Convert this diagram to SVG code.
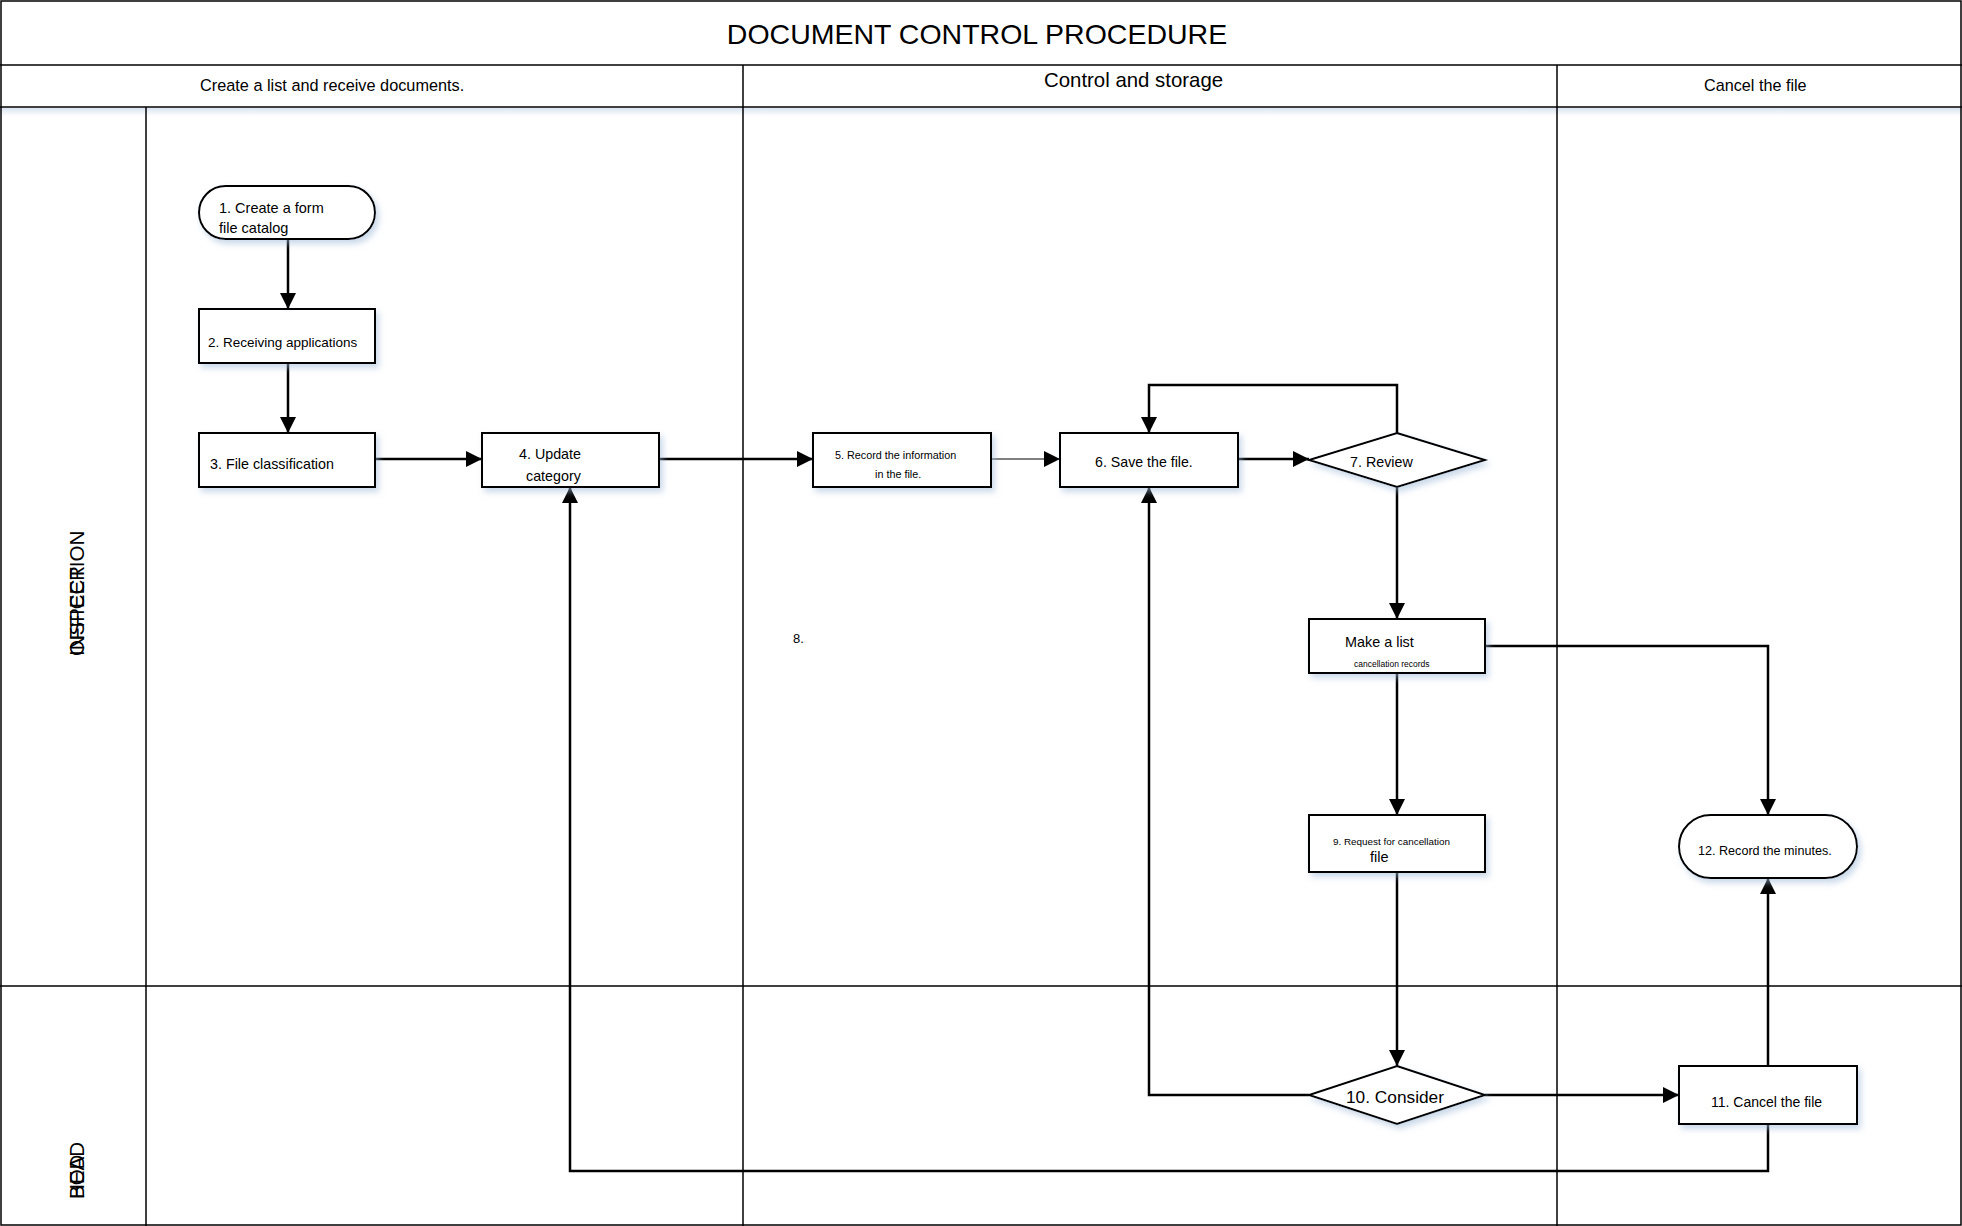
<svg xmlns="http://www.w3.org/2000/svg" width="1962" height="1226" viewBox="0 0 1962 1226">
<style>
text{font-family:"Liberation Sans",Arial,sans-serif;fill:#000}
.frame{fill:none;stroke:#000;stroke-width:1.5}
.lane{stroke:#000;stroke-width:1.5;fill:none}
.node{fill:#fff;stroke:#000;stroke-width:2;filter:url(#sh)}
.conn{fill:none;stroke:#000;stroke-width:2.5}
.thin{fill:none;stroke:#000;stroke-width:1}
</style>
<defs>
<filter id="sh" x="-10%" y="-20%" width="125%" height="150%">
<feDropShadow dx="3" dy="4" stdDeviation="3" flood-color="#9fb9d8" flood-opacity="0.55"/>
</filter>
<linearGradient id="hg" x1="0" y1="0" x2="0" y2="1">
<stop offset="0" stop-color="#c9d8ea"/>
<stop offset="1" stop-color="#ffffff"/>
</linearGradient>
<marker id="ah" markerUnits="userSpaceOnUse" markerWidth="16" markerHeight="16" refX="16" refY="8" orient="auto">
<path d="M0,0 L16,8 L0,16 z" fill="#000"/>
</marker>
</defs>
<rect x="0" y="0" width="1962" height="1226" fill="#fff"/>
<g id="frame">
<rect x="0" y="108" width="1962" height="8" fill="url(#hg)" opacity="0.7"/>
<rect x="1" y="1" width="1960" height="1224" class="frame"/>
<line x1="0" y1="65" x2="1962" y2="65" class="lane"/>
<line x1="0" y1="107" x2="1962" y2="107" class="lane"/>
<line x1="743" y1="65" x2="743" y2="1226" class="lane"/>
<line x1="1557" y1="65" x2="1557" y2="1226" class="lane"/>
<line x1="146" y1="107" x2="146" y2="1226" class="lane"/>
<line x1="0" y1="986" x2="1962" y2="986" class="lane"/>
<text x="977" y="44" font-size="28.5" text-anchor="middle">DOCUMENT CONTROL PROCEDURE</text>
<text x="200" y="91" font-size="16.3">Create a list and receive documents.</text>
<text x="1044" y="87" font-size="20.4">Control and storage</text>
<text x="1704" y="91" font-size="16.2">Cancel the file</text>
<text transform="translate(84,656) rotate(-90)" font-size="20.5">INSPECTION</text>
<text transform="translate(84,656) rotate(-90)" font-size="20.5">OFFICER</text>
<text transform="translate(84,1199) rotate(-90)" font-size="20.5">HEAD</text>
<text transform="translate(84,1199) rotate(-90)" font-size="20.5">BOD</text>
</g>
<g id="connectors">
<path class="conn" d="M288,239 V309" marker-end="url(#ah)"/>
<path class="conn" d="M288,363 V433" marker-end="url(#ah)"/>
<path class="conn" d="M375,459 H482" marker-end="url(#ah)"/>
<path class="conn" d="M659,459 H813" marker-end="url(#ah)"/>
<path class="thin" d="M985,459 H1060" marker-end="url(#ah)"/>
<path class="conn" d="M1238,459 H1309" marker-end="url(#ah)"/>
<path class="conn" d="M1397,433 V385 H1149 V433" marker-end="url(#ah)"/>
<path class="conn" d="M1397,487 V619" marker-end="url(#ah)"/>
<path class="conn" d="M1397,673 V815" marker-end="url(#ah)"/>
<path class="conn" d="M1485,646 H1768 V815" marker-end="url(#ah)"/>
<path class="conn" d="M1397,872 V1066" marker-end="url(#ah)"/>
<path class="conn" d="M1485,1095 H1679" marker-end="url(#ah)"/>
<path class="conn" d="M1309,1095 H1149 V487" marker-end="url(#ah)"/>
<path class="conn" d="M1768,1066 V878" marker-end="url(#ah)"/>
<path class="conn" d="M1768,1124 V1171 H570 V487" marker-end="url(#ah)"/>
</g>
<g id="n1">
<rect class="node" x="199" y="186" width="176" height="53" rx="26.5"/>
<text x="219" y="213" font-size="14.5">1. Create a form</text>
<text x="219" y="233" font-size="14.5">file catalog</text>
</g>
<g id="n2">
<rect class="node" x="199" y="309" width="176" height="54"/>
<text x="208" y="347" font-size="13.5">2. Receiving applications</text>
</g>
<g id="n3">
<rect class="node" x="199" y="433" width="176" height="54"/>
<text x="210" y="469" font-size="14.3">3. File classification</text>
</g>
<g id="n4">
<rect class="node" x="482" y="433" width="177" height="54"/>
<text x="519" y="459" font-size="14.3">4. Update</text>
<text x="526" y="481" font-size="14.3">category</text>
</g>
<g id="n5">
<rect class="node" x="813" y="433" width="178" height="54"/>
<text x="835" y="459" font-size="10.8">5. Record the information</text>
<text x="875" y="478" font-size="10.8">in the file.</text>
</g>
<g id="n6">
<rect class="node" x="1060" y="433" width="178" height="54"/>
<text x="1095" y="467" font-size="14.2">6. Save the file.</text>
</g>
<g id="n7">
<polygon class="node" points="1397,433 1485,460 1397,487 1309,460"/>
<text x="1350" y="467" font-size="14.3">7. Review</text>
</g>
<g id="n8">
<rect class="node" x="1309" y="619" width="176" height="54"/>
<text x="1345" y="647" font-size="14.4">Make a list</text>
<text x="1354" y="667" font-size="8.5">cancellation records</text>
</g>
<g id="n8label">
<text x="793" y="643" font-size="13">8.</text>
</g>
<g id="n9">
<rect class="node" x="1309" y="815" width="176" height="57"/>
<text x="1333" y="844.5" font-size="9.9">9. Request for cancellation</text>
<text x="1370" y="862" font-size="14.5">file</text>
</g>
<g id="n10">
<polygon class="node" points="1397,1066 1485,1095 1397,1124 1309,1095"/>
<text x="1346" y="1103" font-size="17.3">10. Consider</text>
</g>
<g id="n11">
<rect class="node" x="1679" y="1066" width="178" height="58"/>
<text x="1711" y="1107" font-size="14">11. Cancel the file</text>
</g>
<g id="n12">
<rect class="node" x="1679" y="815" width="178" height="63" rx="31.5"/>
<text x="1698" y="854.5" font-size="12.6">12. Record the minutes.</text>
</g>
</svg>
